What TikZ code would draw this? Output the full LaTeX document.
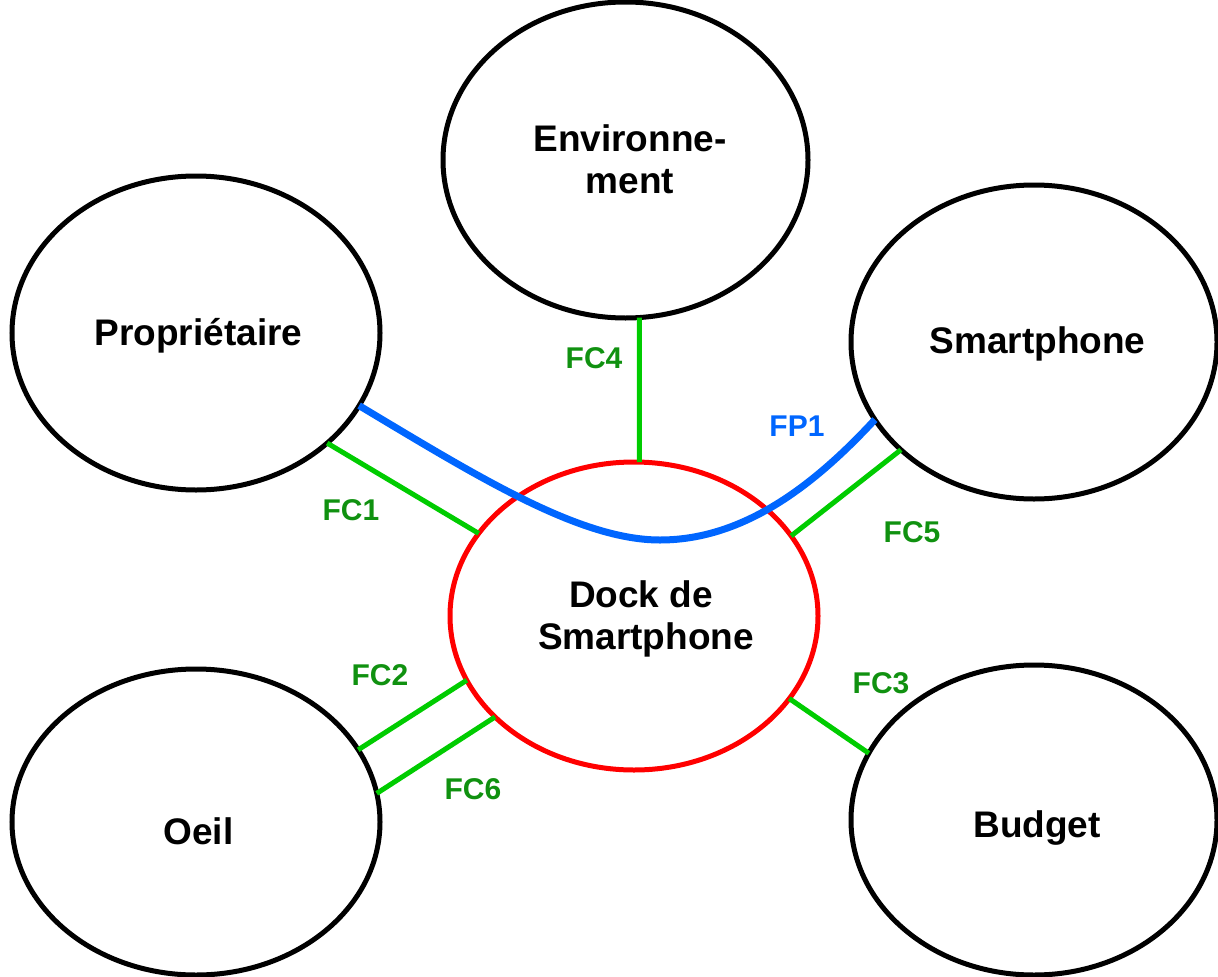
\documentclass[tikz,border=0pt]{standalone}
\usepackage{fontspec}
\setmainfont{Liberation Sans}
\usetikzlibrary{shapes.geometric}
\definecolor{lblgreen}{RGB}{16,145,16}
\definecolor{lngreen}{RGB}{0,204,0}
\definecolor{fpblue}{RGB}{0,102,255}
\definecolor{dockred}{RGB}{255,0,0}
\begin{document}
\begin{tikzpicture}[x=1pt,y=-1pt,
  actor/.style={ellipse,draw=black,line width=5pt,inner sep=0pt,outer sep=0pt},
  dockbox/.style={actor,draw=dockred},
  nametext/.style={inner sep=0pt,outer sep=0pt,align=center,
    font=\fontsize{37}{42}\selectfont\bfseries},
  fcline/.style={draw=lngreen,line width=5pt},
  fpline/.style={draw=fpblue,line width=7pt},
  fclabel/.style={text=lblgreen,font=\fontsize{30}{34}\selectfont\bfseries,inner sep=0pt},
  fplabel/.style={fclabel,text=fpblue}]
\useasboundingbox (0,0) rectangle (1218,977);
% ellipses
\node[actor,minimum width=365pt,minimum height=316pt] (env) at (625.5,160) {};
\node[actor,minimum width=368pt,minimum height=314pt] (prop) at (196,333) {};
\node[actor,minimum width=366pt,minimum height=314pt] (smart) at (1034,342) {};
\node[dockbox,minimum width=368pt,minimum height=308pt] (dock) at (634,616) {};
\node[actor,minimum width=368pt,minimum height=306pt] (oeil) at (196,822) {};
\node[actor,minimum width=366pt,minimum height=310pt] (budget) at (1034,820) {};
% names
\node[nametext] (envtxt) at (630,159) {Environne-\\ment};
\node[nametext,anchor=base] (proptxt) at (198.5,345) {Propriétaire};
\node[nametext,anchor=base] (smarttxt) at (1037.5,353) {Smartphone};
\node[nametext] (docktxt) at (646,619) {Dock de\hspace*{10pt}\\Smartphone};
\node[nametext,anchor=base] (oeiltxt) at (198.5,844) {Oeil};
\node[nametext,anchor=base] (budgettxt) at (1037,837) {Budget};
% connectors
\draw[fcline] (prop.-40) -- (dock.152.4);
\draw[fcline] (env.-85.8) -- (dock.88.8);
\draw[fcline] (smart.219.5) -- (dock.27.7);
\draw[fcline] (oeil.24.8) -- (dock.201.6);
\draw[fcline] (oeil.9.3) -- (dock.216.1);
\draw[fcline] (dock.-28.7) -- (budget.158.1);
\coordinate (fpmid) at (660,540);
\draw[fpline] (prop.-24.8) .. controls (480,478) and (580,540) .. (fpmid)
  .. controls (740,540) and (810,490) .. (smart.-154.6);
% labels
\node[fclabel] (l4) at (594,358) {FC4};
\node[fclabel] (l1) at (351,510) {FC1};
\node[fplabel] (lp1) at (797,426) {FP1};
\node[fclabel] (l5) at (912,532) {FC5};
\node[fclabel] (l2) at (380,675) {FC2};
\node[fclabel] (l6) at (473,789) {FC6};
\node[fclabel] (l3) at (881,683) {FC3};
\end{tikzpicture}
\end{document}
